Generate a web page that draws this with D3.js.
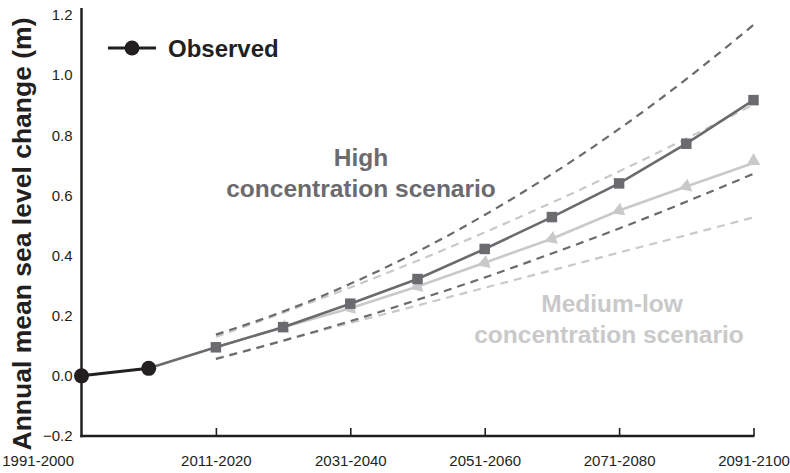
<!DOCTYPE html>
<html>
<head>
<meta charset="utf-8">
<script src="https://cdn.jsdelivr.net/npm/d3@7"></script>
<style>
  html, body { margin: 0; padding: 0; background: #fff; }
  svg { display: block; font-family: "Liberation Sans", Arial, Helvetica, sans-serif; }
</style>
</head>
<body>
<svg id="chart" width="790" height="473"></svg>
<script>
// ---- data ----
const decades = ["1991-2000","2001-2010","2011-2020","2021-2030","2031-2040","2041-2050",
                 "2051-2060","2061-2070","2071-2080","2081-2090","2091-2100"];
const tickDecades = ["1991-2000","2011-2020","2031-2040","2051-2060","2071-2080","2091-2100"];
const yTicks = [-0.2, 0.0, 0.2, 0.4, 0.6, 0.8, 1.0, 1.2];

const observed = [0.0, 0.025];                         // 1991-2000, 2001-2010
// high concentration scenario (2001-2010 .. 2091-2100)
const highValues = [0.025, 0.095, 0.162, 0.240, 0.322, 0.422, 0.528, 0.640, 0.772, 0.917];
// medium-low scenario (2011-2020 .. 2091-2100)
const medValues = [0.095, 0.162, 0.225, 0.297, 0.376, 0.456, 0.550, 0.630, 0.708];
// uncertainty bounds (2011-2020 .. 2091-2100)
const highUpper = [0.137, 0.214, 0.306, 0.413, 0.535, 0.671, 0.821, 0.987, 1.167];
const highLower = [0.056, 0.117, 0.182, 0.253, 0.327, 0.407, 0.490, 0.579, 0.672];
const medUpper  = [0.130, 0.210, 0.294, 0.383, 0.477, 0.576, 0.680, 0.789, 0.902];
const medLower  = [0.058, 0.117, 0.176, 0.234, 0.293, 0.351, 0.410, 0.468, 0.527];

const darkGray = "#6b6b6f", lightGray = "#c9c9ca", ink = "#231f20";

const svg = d3.select("#chart");
const x = d3.scalePoint().domain(decades).range([81.5, 753.5]);
const y = d3.scaleLinear().domain([-0.2, 1.2]).range([436, 15]);

const from = (start, vals) => vals.map((v, i) => ({d: decades[start + i], v}));
const line = d3.line().x(p => x(p.d)).y(p => y(p.v));
const smooth = d3.line().x(p => x(p.d)).y(p => y(p.v)).curve(d3.curveMonotoneX);

// dashed bounds
const dashed = [[medUpper, lightGray], [medLower, lightGray], [highUpper, darkGray], [highLower, darkGray]];
dashed.forEach(([vals, col]) => {
  svg.append("path").datum(from(2, vals)).attr("d", smooth)
    .attr("fill", "none").attr("stroke", col).attr("stroke-width", 2.2)
    .attr("stroke-dasharray", "8,6");
});

// medium-low line
const medPts = from(2, medValues);
svg.append("path").datum(medPts).attr("d", line)
  .attr("fill", "none").attr("stroke", lightGray).attr("stroke-width", 2.6);
svg.selectAll(".tri").data(medPts.slice(1)).join("path")
  .attr("d", d3.symbol().type(d3.symbolTriangle).size(80))
  .attr("transform", (p, i) => {
    const idx = i + 1;
    const px = x(p.d), py = y(p.v);
    if (idx === medPts.length - 1) return `translate(${px},${py - 2})`;
    const prev = medPts[idx - 1];
    const ang = Math.atan2(y(prev.v) - py, x(prev.d) - px) * 180 / Math.PI + 90;
    return `translate(${px},${py}) rotate(${ang})`;
  })
  .attr("fill", lightGray);

// high line
const highPts = from(1, highValues);
svg.append("path").datum(highPts).attr("d", line)
  .attr("fill", "none").attr("stroke", darkGray).attr("stroke-width", 2.6);
svg.selectAll(".sq").data(highPts.slice(1)).join("path")
  .attr("d", d3.symbol().type(d3.symbolSquare).size(110))
  .attr("transform", p => `translate(${x(p.d)},${y(p.v)})`)
  .attr("fill", darkGray);

// observed
const obsPts = from(0, observed);
svg.append("path").datum(obsPts).attr("d", line)
  .attr("fill", "none").attr("stroke", ink).attr("stroke-width", 3);
svg.selectAll(".obs").data(obsPts).join("circle")
  .attr("cx", p => x(p.d)).attr("cy", p => y(p.v)).attr("r", 7.5).attr("fill", ink);

// axes
const yAxis = svg.append("g").attr("transform", `translate(${x(decades[0])},0)`)
  .call(d3.axisLeft(y).tickValues(yTicks).tickFormat(d3.format(".1f")).tickSize(0).tickPadding(9));
yAxis.select(".domain").remove();
yAxis.selectAll("text").attr("font-size", 15).attr("fill", ink)
  .attr("font-family", "'Liberation Sans', Arial, sans-serif");

svg.append("line").attr("x1", x(decades[0])).attr("x2", x(decades[0]))
  .attr("y1", 8).attr("y2", y(-0.2) + 1.2).attr("stroke", ink).attr("stroke-width", 2.5);

const xAxis = svg.append("g").attr("transform", `translate(0,${y(-0.2)})`)
  .call(d3.axisBottom(x).tickValues(tickDecades).tickSize(-8).tickPadding(19));
xAxis.select(".domain").remove();
xAxis.selectAll("line").attr("stroke", ink).attr("stroke-width", 1.6);
xAxis.selectAll(".tick").filter(d => d === decades[0]).select("line").remove();
xAxis.selectAll("text").attr("font-size", 15).attr("fill", ink)
  .attr("font-family", "'Liberation Sans', Arial, sans-serif");
xAxis.selectAll(".tick").filter(d => d === decades[0]).select("text")
  .attr("text-anchor", "end").attr("x", -8);
svg.append("line").attr("x1", x(decades[0]) - 1.2).attr("x2", x(decades[decades.length - 1]) + 1)
  .attr("y1", y(-0.2)).attr("y2", y(-0.2)).attr("stroke", ink).attr("stroke-width", 2.5);

// y title
svg.append("text").attr("transform", `translate(31,234) rotate(-90)`)
  .attr("text-anchor", "middle").attr("font-size", 26.5).attr("font-weight", "bold").attr("fill", ink)
  .text("Annual mean sea level change (m)");

// legend
svg.append("line").attr("x1", 108).attr("x2", 156).attr("y1", 48).attr("y2", 48)
  .attr("stroke", ink).attr("stroke-width", 3);
svg.append("circle").attr("cx", 132).attr("cy", 48).attr("r", 7.5).attr("fill", ink);
svg.append("text").attr("x", 168).attr("y", 56.5).attr("font-size", 24).attr("font-weight", "bold")
  .attr("fill", ink).text("Observed");

// scenario labels
const lbl = (tx, ty, t, col) => svg.append("text").attr("x", tx).attr("y", ty)
  .attr("text-anchor", "middle").attr("font-size", 24.5).attr("font-weight", "bold")
  .attr("fill", col).text(t);
lbl(361, 166, "High", darkGray);
lbl(361, 197, "concentration scenario", darkGray);
lbl(612, 312, "Medium-low", lightGray);
lbl(609, 343, "concentration scenario", lightGray);
</script>
</body>
</html>
